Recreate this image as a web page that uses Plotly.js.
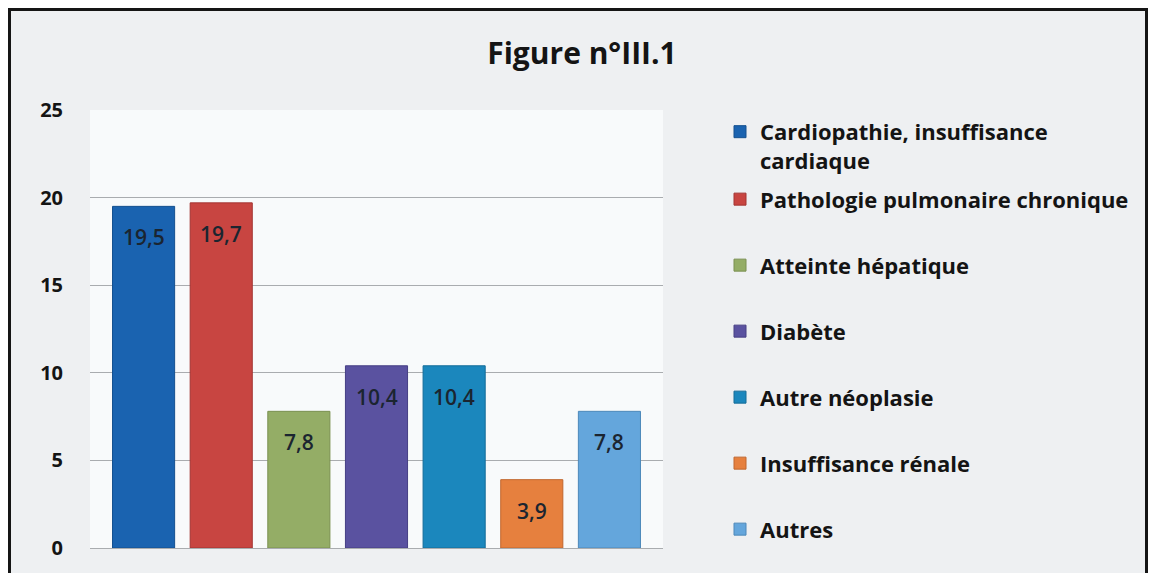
<!DOCTYPE html>
<html>
<head>
<meta charset="utf-8">
<script src="https://cdn.plot.ly/plotly-3.0.1.min.js"></script>
<style>
  html, body { margin: 0; padding: 0; background: #ffffff; width: 1150px; height: 573px; overflow: hidden; }
  #frame { position: absolute; left: 8px; top: 8px; width: 1134px; height: 570px;
           border-left: 3px solid #151515; border-top: 3px solid #151515; border-right: 3px solid #151515;
           background: #eef0f2; }
  #chart { position: absolute; left: 0; top: 0; width: 1134px; height: 562px; }
</style>
</head>
<body>
<div id="frame"><div id="chart"></div></div>
<script>
const categories = ["Cardiopathie, insuffisance<br>cardiaque", "Pathologie pulmonaire chronique",
  "Atteinte hépatique", "Diabète", "Autre néoplasie", "Insuffisance rénale", "Autres"];
const values = [19.5, 19.7, 7.8, 10.4, 10.4, 3.9, 7.8];
const colors = ["#1a63b0", "#c84541", "#94ad66", "#5a52a0", "#1b87bd", "#e6803e", "#64a6dc"];
const lineColors = ["#14508f", "#a33532", "#7a9050", "#463f84", "#146c98", "#c0662e", "#4c88ba"];
const yTicks = [0, 5, 10, 15, 20, 25];
const titleText = "Figure n°III.1";

const FONT = "'Open Sans', sans-serif";

const traces = categories.map((c, i) => ({
  type: "bar",
  x: [i],
  y: [values[i]],
  name: c,
  marker: { color: colors[i], line: { color: lineColors[i], width: 1 } },
  legend: i === 0 ? "legend" : "legend2",
  legendgroup: "g" + i,
  hoverinfo: "skip"
}));

const annotations = values.map((v, i) => ({
  x: i, y: v, xref: "x", yref: "y",
  text: v.toFixed(1).replace(".", ","),
  showarrow: false, yshift: -31,
  font: { family: FONT, size: 21, weight: 600, color: "#1b2530" }
}));

const layout = {
  width: 1134, height: 562,
  paper_bgcolor: "rgba(0,0,0,0)",
  plot_bgcolor: "#f8fafb",
  margin: { l: 79, r: 482, t: 99, b: 25, autoexpand: false },
  barmode: "relative",
  bargap: 0.2,
  showlegend: true,
  title: { text: titleText, x: 0.5035, xref: "container", y: 0.925, yref: "container",
           yanchor: "middle",
           font: { family: FONT, size: 30, weight: 700, color: "#141414" } },
  xaxis: { range: [-0.69, 6.69], showticklabels: false, showgrid: false, zeroline: false,
           ticks: "", fixedrange: true },
  yaxis: { range: [0, 25], tickvals: yTicks, ticktext: yTicks.map(String),
           showgrid: true, gridcolor: "#a9acaf", gridwidth: 1,
           zeroline: true, zerolinecolor: "#a9acaf", zerolinewidth: 1,
           ticks: "outside", ticklen: 22, tickcolor: "rgba(0,0,0,0)",
           tickfont: { family: FONT, size: 20, weight: 700, color: "#141414" } },
  legend: { x: 1.0995, xanchor: "left", y: 0.998, yanchor: "top", valign: "top",
            bgcolor: "rgba(0,0,0,0)", maxheight: 1000,
            font: { family: FONT, size: 22, weight: 700, color: "#141414" } },
  legend2: { x: 1.0995, xanchor: "left", y: 0.844, yanchor: "top", valign: "middle",
             bgcolor: "rgba(0,0,0,0)", tracegroupgap: 34.4, maxheight: 1000,
             font: { family: FONT, size: 22, weight: 700, color: "#141414" } },
  annotations: annotations
};

Plotly.newPlot("chart", traces, layout, { displayModeBar: false, staticPlot: true });
</script>
</body>
</html>
